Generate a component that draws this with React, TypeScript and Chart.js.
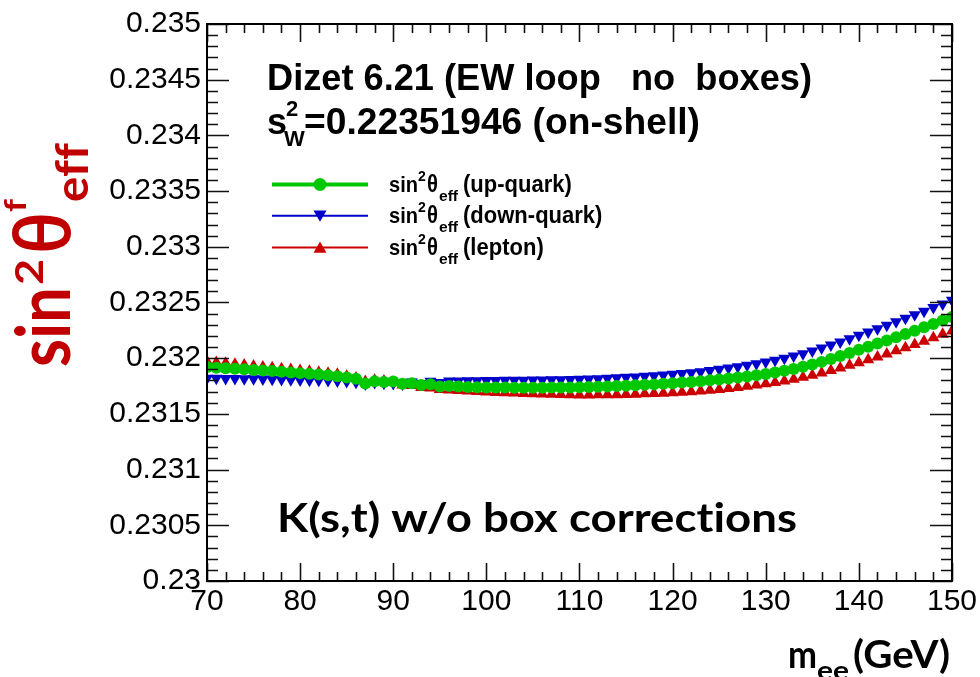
import React, { useEffect, useRef } from "react";
import { Chart, registerables } from "chart.js";

Chart.register(...registerables);

// ---------------- data ----------------
const massGeV = [
  70, 71, 72, 73, 74, 75, 76, 77, 78, 79,
  80, 81, 82, 83, 84, 85, 86, 87, 88, 89,
  90, 91, 92, 93, 94, 95, 96, 97, 98, 99,
  100, 101, 102, 103, 104, 105, 106, 107, 108, 109,
  110, 111, 112, 113, 114, 115, 116, 117, 118, 119,
  120, 121, 122, 123, 124, 125, 126, 127, 128, 129,
  130, 131, 132, 133, 134, 135, 136, 137, 138, 139,
  140, 141, 142, 143, 144, 145, 146, 147, 148, 149,
  150,
];

const upQuark = [
  0.23192, 0.231915, 0.23191, 0.231905, 0.2319, 0.231895, 0.23189, 0.231884, 0.231878, 0.231872,
  0.231866, 0.23186, 0.231854, 0.231847, 0.231838, 0.231826, 0.231815, 0.231772, 0.231792, 0.231786,
  0.23179, 0.23177, 0.231776, 0.23176, 0.231766, 0.231746, 0.23175, 0.231745, 0.231742, 0.23174,
  0.231738, 0.231737, 0.231736, 0.231735, 0.231735, 0.231735, 0.231735, 0.231736, 0.231737, 0.231738,
  0.23174, 0.231742, 0.231744, 0.231747, 0.23175, 0.231753, 0.231757, 0.231761, 0.231765, 0.23177,
  0.231775, 0.231781, 0.231787, 0.231794, 0.231801, 0.231809, 0.231817, 0.231826, 0.231836, 0.231847,
  0.231859, 0.231872, 0.231887, 0.231904, 0.231923, 0.231944, 0.231967, 0.231992, 0.232019, 0.232047,
  0.232076, 0.232103, 0.232131, 0.232159, 0.232188, 0.232217, 0.232247, 0.232277, 0.232308, 0.232339,
  0.23237,
];

const downQuark = [
  0.23182, 0.231819, 0.231818, 0.231817, 0.231816, 0.231815, 0.231813, 0.231811, 0.231809, 0.231807,
  0.231805, 0.231803, 0.231801, 0.231799, 0.231796, 0.23179, 0.231785, 0.231768, 0.231782, 0.231776,
  0.231772, 0.231768, 0.231786, 0.231772, 0.231792, 0.231782, 0.231796, 0.231795, 0.231797, 0.231798,
  0.231799, 0.2318, 0.231801, 0.231802, 0.231803, 0.231804, 0.231805, 0.231806, 0.231807, 0.231808,
  0.23181, 0.231813, 0.231816, 0.23182, 0.231824, 0.231828, 0.231832, 0.231837, 0.231843, 0.231849,
  0.231855, 0.231862, 0.23187, 0.231879, 0.231889, 0.2319, 0.231912, 0.231924, 0.231937, 0.231951,
  0.231965, 0.231981, 0.231999, 0.232019, 0.232041, 0.232065, 0.232091, 0.232118, 0.232146, 0.232175,
  0.232205, 0.232235, 0.232265, 0.232296, 0.232327, 0.232358, 0.23239, 0.232422, 0.232454, 0.232487,
  0.23252,
];

const lepton = [
  0.23197, 0.231962, 0.231954, 0.231946, 0.231938, 0.23193, 0.231922, 0.231914, 0.231906, 0.231898,
  0.23189, 0.231882, 0.231874, 0.231866, 0.231856, 0.231838, 0.231822, 0.23179, 0.231802, 0.231796,
  0.231782, 0.23176, 0.231754, 0.231738, 0.231732, 0.231718, 0.231715, 0.23171, 0.231705, 0.231701,
  0.231697, 0.231693, 0.23169, 0.231687, 0.231684, 0.231681, 0.231678, 0.231676, 0.231674, 0.231672,
  0.23167, 0.23167, 0.231671, 0.231672, 0.231673, 0.231675, 0.231677, 0.23168, 0.231683, 0.231686,
  0.23169, 0.231694, 0.231699, 0.231705, 0.231712, 0.23172, 0.231729, 0.231738, 0.231748, 0.231759,
  0.23177, 0.231782, 0.231796, 0.231812, 0.231829, 0.231848, 0.231868, 0.231889, 0.231912, 0.231936,
  0.23196, 0.231985, 0.232011, 0.232038, 0.232066, 0.232094, 0.232123, 0.232153, 0.232183, 0.232214,
  0.232245,
];

const xTickValues = [70, 80, 90, 100, 110, 120, 130, 140, 150];
const yTickValues = [0.23, 0.2305, 0.231, 0.2315, 0.232, 0.2325, 0.233, 0.2335, 0.234, 0.2345, 0.235];
const yTickLabels = ["0.23", "0.2305", "0.231", "0.2315", "0.232", "0.2325", "0.233", "0.2335", "0.234", "0.2345", "0.235"];

const seriesNames = ["(up-quark)", "(down-quark)", "(lepton)"];
const headerLine1 = "Dizet 6.21 (EW loop   no  boxes)";
const headerLine2 = "=0.22351946 (on-shell)";
const noteText = "K(s,t) w/o box corrections";

// ---------------- style ----------------
const GREEN = "#00c800";
const BLUE = "#0000cc";
const RED = "#cc0000";
const TITLE_RED = "#c00000";
const SANS = '"Liberation Sans", Arial, Helvetica, sans-serif';
const HUM = 'Lato, "Open Sans", sans-serif';
const GREEK = '"Open Sans", "DejaVu Sans", sans-serif';

function txt(
  ctx: CanvasRenderingContext2D,
  s: string,
  x: number,
  y: number,
  font: string,
  color: string,
  width?: number,
  yScale?: number
) {
  ctx.save();
  ctx.font = font;
  (ctx as any).letterSpacing = "0.01px";
  ctx.fillStyle = color;
  ctx.textAlign = "left";
  ctx.textBaseline = "alphabetic";
  ctx.translate(x, y);
  const w = ctx.measureText(s).width;
  const sx = width && w > 0 ? width / w : 1;
  ctx.scale(sx, yScale || 1);
  ctx.fillText(s, 0, 0);
  ctx.restore();
}

function marker(ctx: CanvasRenderingContext2D, kind: string, x: number, y: number, r: number, color: string) {
  ctx.save();
  ctx.fillStyle = color;
  ctx.beginPath();
  if (kind === "circle") {
    ctx.arc(x, y, r, 0, Math.PI * 2);
  } else {
    const dir = kind === "up" ? -1 : 1;
    const half = (r * Math.sqrt(3)) / 2;
    ctx.moveTo(x, y + dir * r);
    ctx.lineTo(x - half, y - dir * (r / 2));
    ctx.lineTo(x + half, y - dir * (r / 2));
    ctx.closePath();
  }
  ctx.fill();
  ctx.restore();
}

const decorPlugin = {
  id: "decor",
  afterDatasetsDraw(chart: any) {
    const { ctx, chartArea: a, scales } = chart;
    const xs = scales.x;
    const ys = scales.y;
    ctx.save();
    ctx.strokeStyle = "#111";
    ctx.lineWidth = 1.6;
    ctx.beginPath();
    for (let v = 70; v <= 150; v += 2) {
      const px = Math.round(xs.getPixelForValue(v)) + 0.5;
      const len = v % 10 === 0 ? 18 : 9;
      ctx.moveTo(px, a.bottom);
      ctx.lineTo(px, a.bottom - len);
      ctx.moveTo(px, a.top);
      ctx.lineTo(px, a.top + len);
    }
    for (let i = 0; i <= 50; i++) {
      const py = Math.round(ys.getPixelForValue(0.23 + i * 0.0001)) + 0.5;
      const len = i % 5 === 0 ? 22 : 11;
      ctx.moveTo(a.left, py);
      ctx.lineTo(a.left + len, py);
      ctx.moveTo(a.right, py);
      ctx.lineTo(a.right - len, py);
    }
    ctx.stroke();
    ctx.lineWidth = 2;
    ctx.strokeStyle = "#000";
    ctx.strokeRect(a.left, a.top, a.right - a.left, a.bottom - a.top);
    ctx.restore();
  },
  afterDraw(chart: any) {
    const ctx: CanvasRenderingContext2D = chart.ctx;

    // header text
    txt(ctx, headerLine1, 267, 90, `bold 36px ${SANS}`, "#000", 545, 1.04);
    txt(ctx, "s", 267, 134, `bold 36px ${SANS}`, "#000", undefined, 1.04);
    txt(ctx, "2", 286, 116, `bold 22px ${SANS}`, "#000");
    txt(ctx, "W", 284, 146, `bold 22px ${SANS}`, "#000");
    txt(ctx, headerLine2, 304, 134, `bold 36px ${SANS}`, "#000", 396, 1.04);

    // legend
    const rows = [
      { y: 184.5, color: GREEN, lw: 4, kind: "circle", r: 6.5 },
      { y: 215.8, color: BLUE, lw: 2, kind: "down", r: 7.5 },
      { y: 247.5, color: RED, lw: 2, kind: "up", r: 7.5 },
    ];
    rows.forEach((row, i) => {
      ctx.save();
      ctx.strokeStyle = row.color;
      ctx.lineWidth = row.lw;
      ctx.beginPath();
      ctx.moveTo(272, row.y);
      ctx.lineTo(368, row.y);
      ctx.stroke();
      ctx.restore();
      marker(ctx, row.kind, 320, row.y + (row.kind === "up" ? 1.5 : row.kind === "down" ? -1.5 : 0), row.r, row.color);
      const b = row.y + 7.4;
      txt(ctx, "sin", 389, b, `bold 21px ${SANS}`, "#000", 29, 1.08);
      txt(ctx, "2", 418, row.y - 3.6, `bold 14px ${SANS}`, "#000");
      txt(ctx, "θ", 427, b, `bold 22px ${SANS}`, "#000", 11, 1.08);
      txt(ctx, "eff", 439, row.y + 16.4, `bold 15px ${SANS}`, "#000", 19);
      txt(ctx, seriesNames[i], 463, b, `bold 22px ${SANS}`, "#000", undefined, 1.08);
    });

    // note
    txt(ctx, noteText, 277, 532, `bold 40px ${HUM}`, "#000", 520);

    // x axis title
    txt(ctx, "m", 788, 668, `bold 38px ${HUM}`, "#000", 29);
    txt(ctx, "ee", 817, 680, `bold 26px ${HUM}`, "#000", 32);
    txt(ctx, "(GeV)", 853, 668, `bold 38px ${HUM}`, "#000", 97);

    // y axis title (rotated)
    ctx.save();
    ctx.translate(70, 367);
    ctx.rotate(-Math.PI / 2);
    txt(ctx, "sin", 0, 0, `bold 74px ${HUM}`, TITLE_RED, 80);
    txt(ctx, "2", 82, -27, `bold 38px ${HUM}`, TITLE_RED, 26);
    txt(ctx, "θ", 113, 0, `600 76px ${GREEK}`, TITLE_RED, 42);
    txt(ctx, "f", 155, -44, `bold 30px ${HUM}`, TITLE_RED, 13);
    txt(ctx, "eff", 165, 18, `bold 46px ${HUM}`, TITLE_RED, 59);
    ctx.restore();
  },
};

export default function App() {
  const ref = useRef<HTMLCanvasElement | null>(null);

  useEffect(() => {
    if (!ref.current) return;
    const mk = (vals: number[]) => massGeV.map((x, i) => ({ x, y: vals[i] }));
    const chart = new Chart(ref.current, {
      type: "scatter",
      data: {
        datasets: [
          {
            label: "up-quark",
            data: mk(upQuark),
            pointStyle: "circle",
            pointRadius: 6,
            backgroundColor: GREEN,
            borderColor: GREEN,
            pointBorderWidth: 0,
            showLine: false,
          },
          {
            label: "down-quark",
            data: mk(downQuark),
            pointStyle: "triangle",
            pointRotation: 180,
            pointRadius: 7,
            backgroundColor: BLUE,
            borderColor: BLUE,
            pointBorderWidth: 0,
            showLine: false,
          },
          {
            label: "lepton",
            data: mk(lepton),
            pointStyle: "triangle",
            pointRadius: 7,
            backgroundColor: RED,
            borderColor: RED,
            pointBorderWidth: 0,
            showLine: false,
          },
        ],
      } as any,
      options: {
        responsive: false,
        animation: false,
        devicePixelRatio: 1,
        events: [],
        layout: { padding: { left: 0, right: 24, top: 23, bottom: 0 } },
        plugins: { legend: { display: false }, tooltip: { enabled: false }, title: { display: false } },
        scales: {
          x: {
            type: "linear",
            min: 70,
            max: 150,
            grid: { display: false, drawTicks: false },
            border: { display: false },
            ticks: {
              font: { family: SANS, size: 30 },
              color: "#000",
              padding: 3,
              maxRotation: 0,
              autoSkip: false,
              callback: (v: any) => String(v),
            },
            afterBuildTicks: (s: any) => {
              s.ticks = xTickValues.map((v) => ({ value: v }));
            },
            afterFit: (s: any) => {
              s.height = 96;
            },
          },
          y: {
            type: "linear",
            min: 0.23,
            max: 0.235,
            grid: { display: false, drawTicks: false },
            border: { display: false },
            ticks: {
              font: { family: SANS, size: 30 },
              color: "#000",
              padding: 6,
              autoSkip: false,
              callback: (v: any) => {
                const idx = yTickValues.findIndex((t) => Math.abs(t - Number(v)) < 1e-9);
                return idx >= 0 ? yTickLabels[idx] : "";
              },
            },
            afterBuildTicks: (s: any) => {
              s.ticks = yTickValues.map((v) => ({ value: v }));
            },
            afterFit: (s: any) => {
              s.width = 207;
            },
          },
        },
      } as any,
      plugins: [decorPlugin as any],
    });
    return () => chart.destroy();
  }, []);

  return (
    <div style={{ position: "absolute", left: 0, top: 0, width: 980, height: 677, background: "#fff" }}>
      <canvas ref={ref} width={980} height={677} style={{ display: "block" }} />
    </div>
  );
}
